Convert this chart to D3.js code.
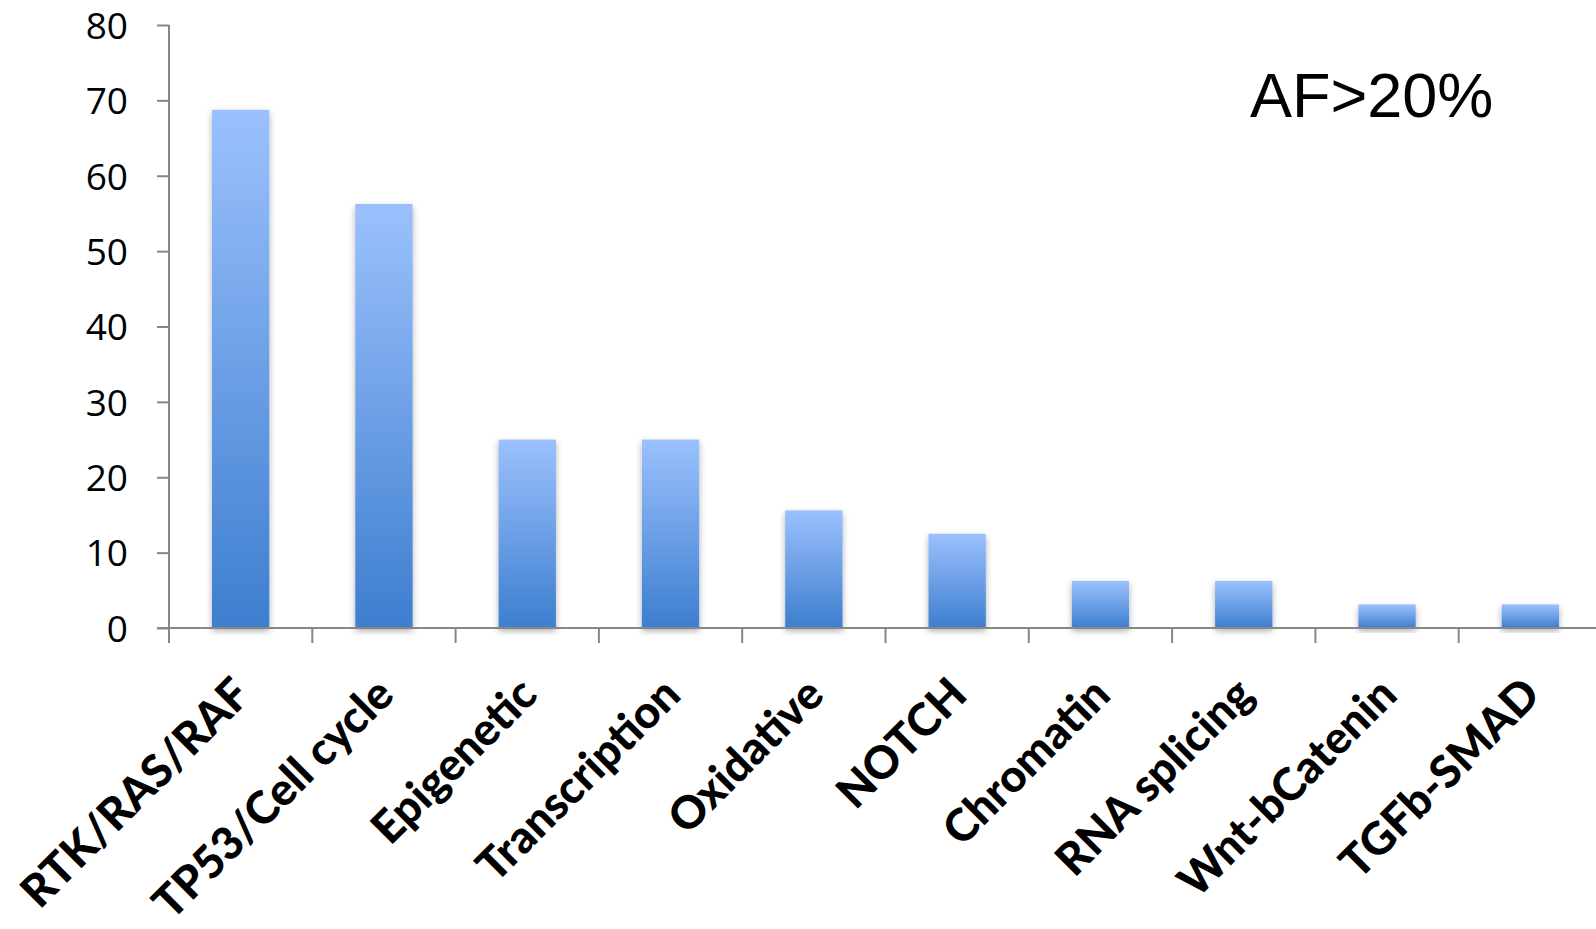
<!DOCTYPE html>
<html>
<head>
<meta charset="utf-8">
<script src="https://cdn.jsdelivr.net/npm/d3@7"></script>
<style>
  html, body { margin: 0; padding: 0; background: #ffffff; overflow: hidden; }
  svg { display: block; }
</style>
</head>
<body>
<svg id="chart" width="1596" height="929"></svg>
<script>
// Pathway categories and share of samples (%) with alterations at AF>20%
const categories = [
  "RTK/RAS/RAF", "TP53/Cell cycle", "Epigenetic", "Transcription", "Oxidative",
  "NOTCH", "Chromatin", "RNA splicing", "Wnt-bCatenin", "TGFb-SMAD"
];
const values = [68.75, 56.25, 25, 25, 15.6, 12.5, 6.25, 6.25, 3.125, 3.125];
const yTicks = [0, 10, 20, 30, 40, 50, 60, 70, 80];
const annotation = "AF>20%";

const svg = d3.select("#chart");
const W = 1596, H = 929;

const plot = { left: 169, top: 25, bottom: 628, right: 169 + 1433 };

const y = d3.scaleLinear().domain([0, 80]).range([plot.bottom, plot.top]);
const xCat = d3.scaleBand().domain(categories).range([plot.left, plot.right]).padding(0);
const xBar = d3.scaleBand().domain(categories).range([plot.left, plot.right])
  .paddingInner(0.6).paddingOuter(0.3);

const defs = svg.append("defs");
const grad = defs.append("linearGradient")
  .attr("id", "barFill").attr("x1", 0).attr("y1", 0).attr("x2", 0).attr("y2", 1);
grad.append("stop").attr("offset", "0%").attr("stop-color", "#9bc1fd");
grad.append("stop").attr("offset", "100%").attr("stop-color", "#3d7ecf");

const shadow = defs.append("filter").attr("id", "barShadow")
  .attr("x", "-30%").attr("y", "-10%").attr("width", "160%").attr("height", "130%");
shadow.append("feDropShadow").attr("dx", 0).attr("dy", 3).attr("stdDeviation", 3)
  .attr("flood-color", "#000").attr("flood-opacity", 0.32);

const axisColor = "#878787";

// Bars
svg.append("g").selectAll("rect").data(values).join("rect")
  .attr("x", (d, i) => xBar(categories[i]))
  .attr("width", xBar.bandwidth())
  .attr("y", d => y(d))
  .attr("height", d => y(0) - y(d))
  .attr("fill", "url(#barFill)")
  .attr("filter", "url(#barShadow)");

// Y axis
const yAxis = svg.append("g").attr("transform", `translate(${plot.left},0)`)
  .call(d3.axisLeft(y).tickValues(yTicks).tickSize(12).tickPadding(0).tickFormat(d3.format("d")));
yAxis.select(".domain").attr("stroke", axisColor).attr("stroke-width", 2).attr("d", `M0,${plot.top}V${plot.bottom}`);
yAxis.selectAll(".tick line").attr("stroke", axisColor).attr("stroke-width", 2);
yAxis.selectAll(".tick text")
  .attr("x", -41).attr("dy", "0.36em")
  .attr("fill", "#000")
  .style("font-family", "'Open Sans', 'Noto Sans', sans-serif")
  .style("font-size", "37px");

// X axis: line along zero, ticks at category boundaries
const xg = svg.append("g");
xg.append("line")
  .attr("x1", plot.left - 12).attr("x2", W)
  .attr("y1", y(0)).attr("y2", y(0))
  .attr("stroke", axisColor).attr("stroke-width", 2);
const boundaries = categories.map(c => xCat(c));
xg.selectAll("line.tick").data(boundaries).join("line")
  .attr("class", "tick")
  .attr("x1", d => d).attr("x2", d => d)
  .attr("y1", y(0)).attr("y2", y(0) + 15)
  .attr("stroke", axisColor).attr("stroke-width", 2);

// Rotated category labels
xg.selectAll("text").data(categories).join("text")
  .attr("transform", c => `translate(${xCat(c) + xCat.bandwidth() / 2 + 1},${y(0) + 58}) rotate(-45)`)
  .attr("text-anchor", "end")
  .attr("dy", "0.35em")
  .attr("fill", "#000")
  .style("font-family", "Lato, 'Open Sans', sans-serif")
  .style("font-weight", "900")
  .style("font-size", "45px")
  .text(c => c);

// Annotation
svg.append("text")
  .attr("x", 1250).attr("y", 117)
  .attr("fill", "#000")
  .style("font-family", "'Liberation Sans', Arial, sans-serif")
  .style("font-size", "63px")
  .text(annotation);
</script>
</body>
</html>
